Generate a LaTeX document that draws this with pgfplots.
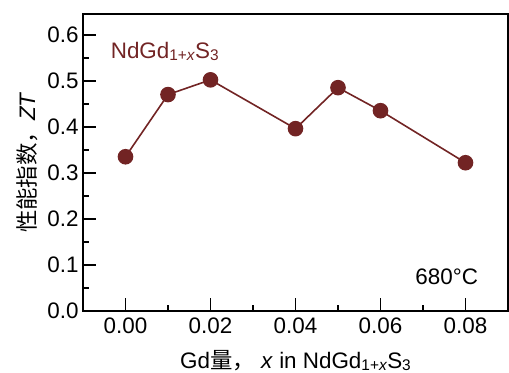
\documentclass[border=0pt]{standalone}
\usepackage{pgfplots}
\pgfplotsset{compat=1.18}
\usepackage{fontspec}
\setmainfont{Liberation Sans}
\newfontfamily\cjk{Noto Sans CJK SC}
\definecolor{dred}{RGB}{114,36,36}
\newcommand\sub[1]{\raisebox{-1.5bp}{\fontsize{15.5}{18}\selectfont #1}}
\begin{document}
\begin{tikzpicture}
\begin{axis}[
  scale only axis,
  width=425bp, height=297bp,
  xmin=-0.01, xmax=0.09,
  ymin=0, ymax=0.645,
  axis line style={line width=2.2bp, black},
  xtick={0,0.02,0.04,0.06,0.08},
  ytick={0,0.1,0.2,0.3,0.4,0.5,0.6},
  minor x tick num=1, minor y tick num=1,
  tick align=inside,
  xtick pos=bottom, ytick pos=left,
  major tick length=13bp, minor tick length=6.5bp,
  every tick/.style={line width=1.6bp, black},
  /pgf/number format/assume math mode=true,
  scaled x ticks=false,
  tick label style={font=\fontsize{22.5}{26}\selectfont},
  xticklabel style={/pgf/number format/fixed, /pgf/number format/fixed zerofill, /pgf/number format/precision=2, yshift=-3bp},
  yticklabel style={/pgf/number format/fixed, /pgf/number format/fixed zerofill, /pgf/number format/precision=1, xshift=-1bp},
  xlabel={Gd{\cjk 量，} \textit{x} in NdGd\sub{1+\textit{x}}S\sub{3}},
  ylabel={{\cjk 性能指数，}\textit{ZT}},
  label style={font=\fontsize{22.5}{26}\selectfont},
  xlabel style={at={(axis description cs:0.5,-0.195)}, anchor=base},
  ylabel style={at={(axis description cs:-0.132,0.5)}, anchor=center},
  clip=false,
]
\addplot[color=dred, line width=1.6bp, mark=*, mark size=7bp, mark options={fill=dred, draw=dred}]
coordinates {
(0.00,0.335)
(0.01,0.470)
(0.02,0.502)
(0.04,0.396)
(0.05,0.485)
(0.06,0.435)
(0.08,0.322)
};
\node[anchor=base west, text=dred, font=\fontsize{22.5}{26}\selectfont, inner sep=0pt] at (axis cs:-0.0035,0.548) {NdGd\sub{1+\textit{x}}S\sub{3}};
\node[anchor=base east, font=\fontsize{22.5}{26}\selectfont, inner sep=0pt] at (axis cs:0.083,0.057) {680°C};
\end{axis}
\pgfresetboundingbox
\path (current axis.south west) ++(-83bp,-62bp) rectangle ([xshift=1bp,yshift=14bp]current axis.north east);
\end{tikzpicture}
\end{document}
